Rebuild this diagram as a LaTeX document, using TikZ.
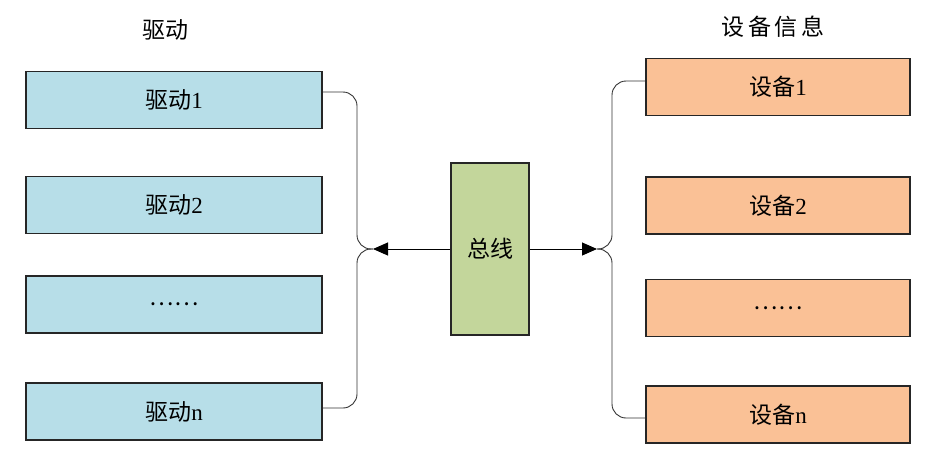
\documentclass[tikz,border=0pt]{standalone}
\usepackage{fontspec}
\setmainfont{Liberation Serif}
\newfontfamily\cjk{Noto Sans CJK SC}
\usetikzlibrary{arrows.meta}
\definecolor{drvfill}{HTML}{B7DEE8}
\definecolor{devfill}{HTML}{FAC196}
\definecolor{busfill}{HTML}{C3D69B}
\begin{document}
\begin{tikzpicture}[x=1pt,y=-1pt,
  every node/.style={font=\fontsize{23}{27}\selectfont},
  drvbox/.style={draw=black!85,line width=1.3pt,fill=drvfill,minimum width=296pt,minimum height=57pt,inner sep=0pt},
  devbox/.style={draw=black!85,line width=1.3pt,fill=devfill,minimum width=264pt,minimum height=57pt,inner sep=0pt},
  busbox/.style={draw=black!85,line width=1.3pt,fill=busfill,minimum width=78pt,minimum height=172pt,inner sep=0pt},
  brace/.style={draw=black!80,line width=0.9pt,rounded corners=14pt},
  arr/.style={draw=black,line width=1pt,-{Triangle[length=15pt,width=13pt]}}]
\useasboundingbox (0,0) rectangle (945,461);
\node (t1) at (165,30) {\cjk 驱动};
\node (t2) at (773,27) {\cjk 设\,备\,信\,息};
\node[drvbox] (l1) at (174,100) {\cjk 驱动\rmfamily 1};
\node[drvbox] (l2) at (174,205) {\cjk 驱动\rmfamily 2};
\node[drvbox] (l3) at (174,304.5) {\cjk ……};
\node[drvbox] (l4) at (174,411.5) {\cjk 驱动\rmfamily n};
\node[devbox] (r1) at (778,87) {\cjk 设备\rmfamily 1};
\node[devbox] (r2) at (778,205.5) {\cjk 设备\rmfamily 2};
\node[devbox] (r3) at (778,308) {\cjk ……};
\node[devbox] (r4) at (778,414.5) {\cjk 设备\rmfamily n};
\node[busbox] (bus) at (490,249) {\cjk 总线};
\coordinate (tl) at (373,249);
\coordinate (tr) at (597,249);
\draw[brace] ([yshift=8pt]l1.east) -- (357,92) -- (357,249) -- (tl);
\draw[brace] (tl) -- (357,249) -- (357,408) -- ([yshift=3.5pt]l4.east);
\draw[brace] ([yshift=6pt]r1.west) -- (612,81) -- (612,249) -- (tr);
\draw[brace] (tr) -- (612,249) -- (612,418) -- ([yshift=-3.5pt]r4.west);
\draw[arr] (bus.west) -- (tl);
\draw[arr] (bus.east) -- (tr);
\end{tikzpicture}
\end{document}
